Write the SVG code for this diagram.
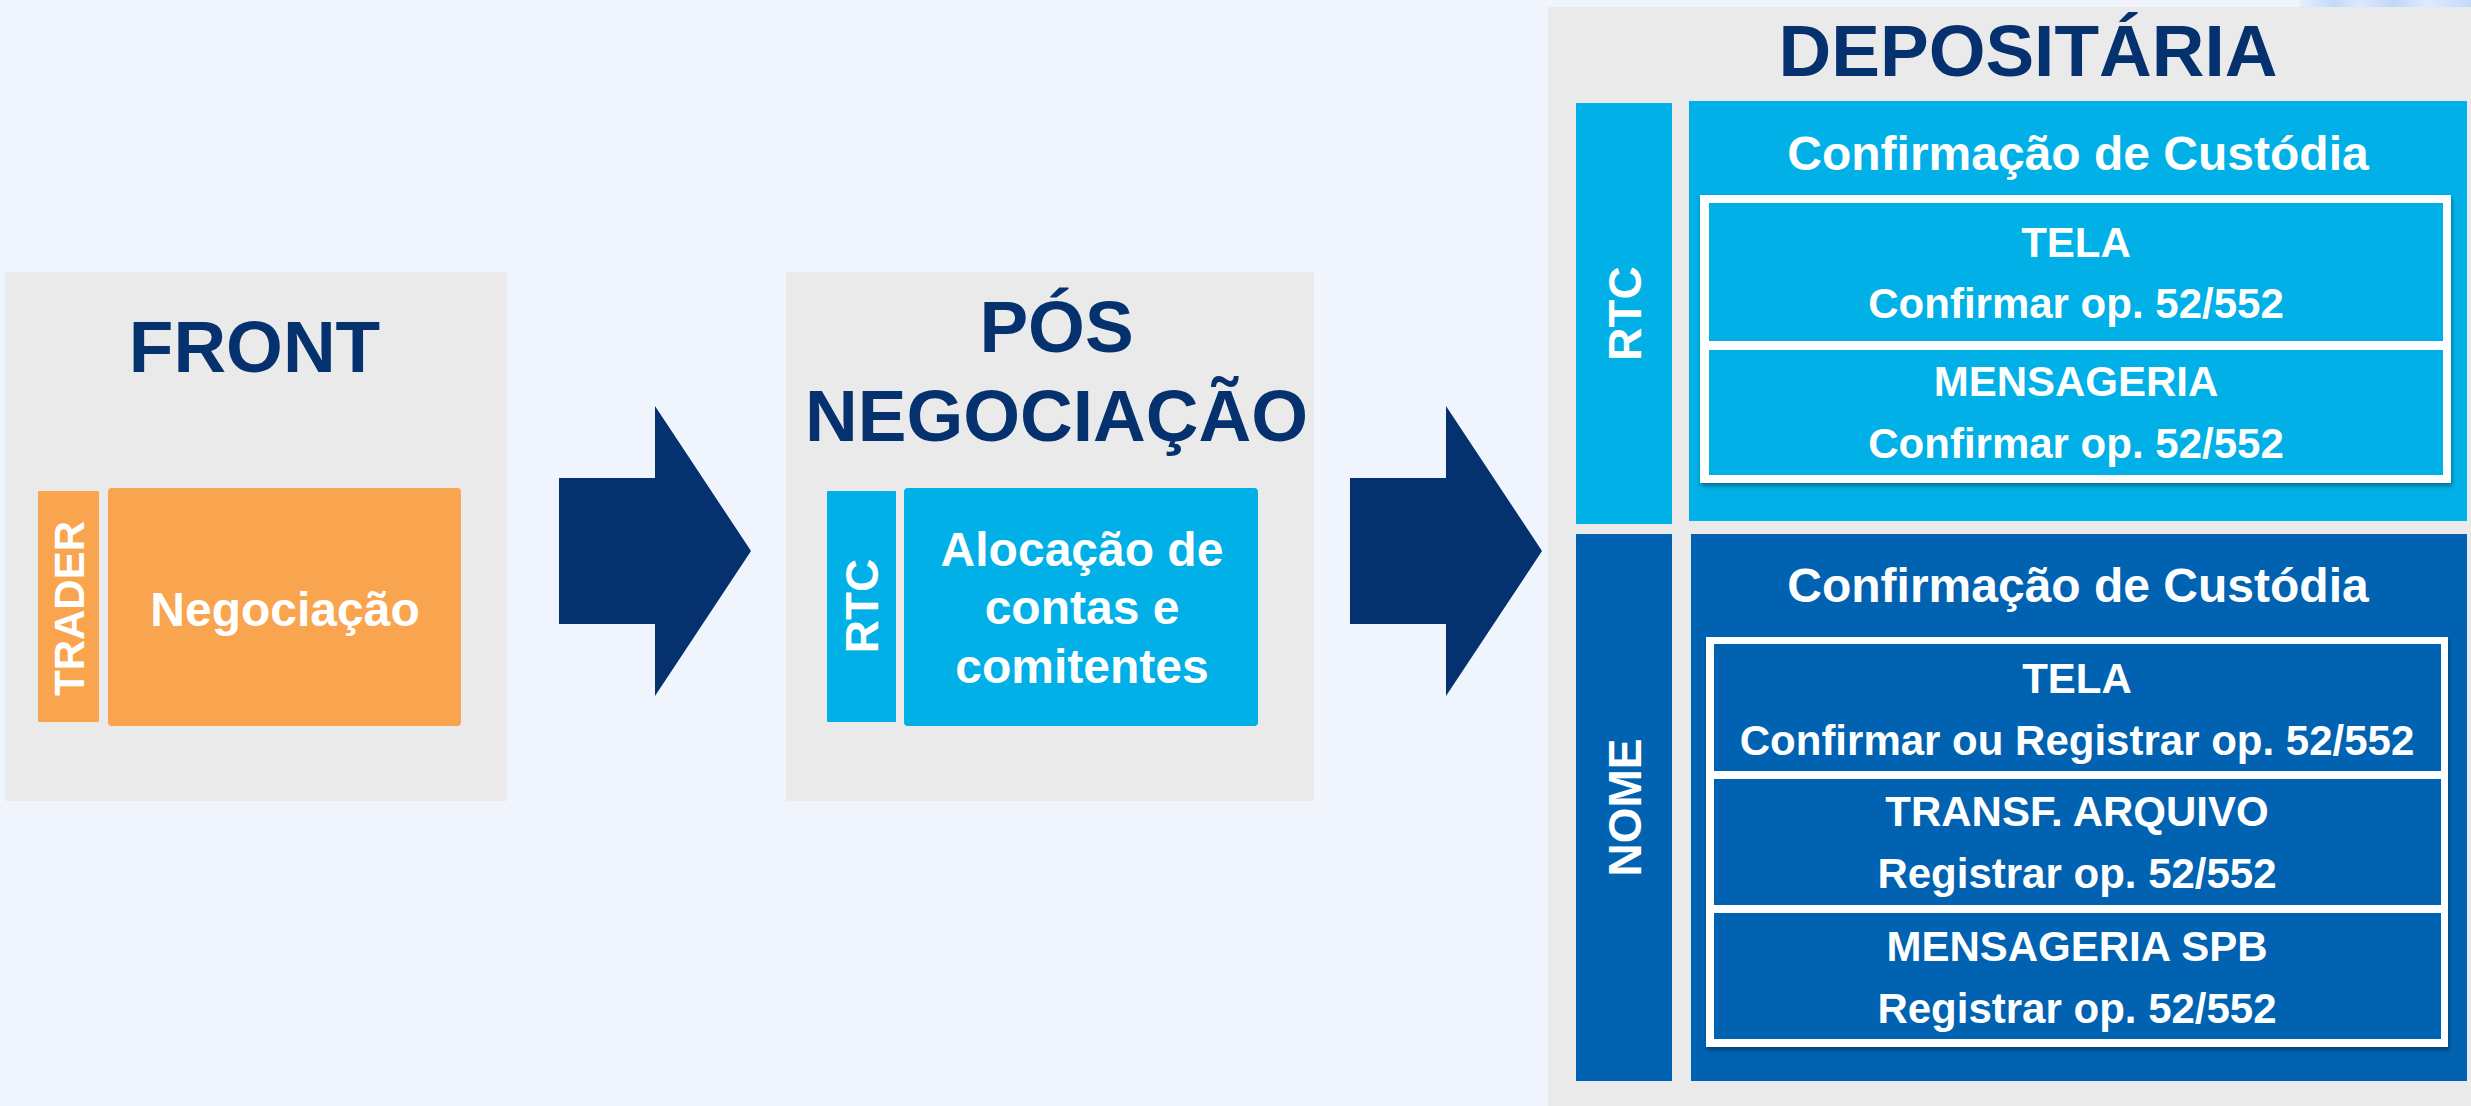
<svg xmlns="http://www.w3.org/2000/svg" width="2471" height="1106" viewBox="0 0 2471 1106">
<style>
text{font-family:"Liberation Sans",Arial,sans-serif;}
.title{font-size:73px;font-weight:bold;fill:#05316F;text-anchor:middle;}
.w48{font-size:48px;font-weight:bold;fill:#FFFFFF;text-anchor:middle;}
.w42{font-size:42px;font-weight:bold;fill:#FFFFFF;text-anchor:middle;}
.vert{font-size:46px;font-weight:bold;fill:#FFFFFF;text-anchor:middle;}
.panel{fill:#EAEAEA;}
.cyan{fill:#00B0E6;}
.dblue{fill:#0062B1;}
.orange{fill:#F9A54F;}
.arrow{fill:#05316F;}
</style>
<defs>
<linearGradient id="topband" x1="0" y1="0" x2="1" y2="0">
<stop offset="0" stop-color="#E6EEFC"/>
<stop offset="0.2" stop-color="#C2DAFB"/>
<stop offset="0.35" stop-color="#DDE9FC"/>
<stop offset="0.55" stop-color="#BFD8FB"/>
<stop offset="0.75" stop-color="#DFEAFC"/>
<stop offset="1" stop-color="#C3DAFB"/>
</linearGradient>
<filter id="sh" x="-5%" y="-5%" width="110%" height="115%">
<feDropShadow dx="1" dy="3" stdDeviation="2" flood-color="#000000" flood-opacity="0.35"/>
</filter>
</defs>
<rect x="0" y="0" width="2471" height="1106" fill="#F0F5FD"/>
<rect x="2300" y="0" width="171" height="8" fill="url(#topband)"/>

<g id="front">
<rect class="panel" x="5" y="272" width="502" height="529"/>
<text class="title" x="254.5" y="372">FRONT</text>
<rect id="trader" class="orange" x="38" y="491" width="61" height="231" rx="1"/>
<text x="0" y="0" transform="translate(84,608.5) rotate(-90)" style="font-size:42px;font-weight:bold;fill:#FFFFFF;text-anchor:middle;">TRADER</text>
<rect id="negociacao" class="orange" x="108" y="488" width="353" height="238" rx="4"/>
<text class="w48" x="285" y="626">Negociação</text>
</g>

<g id="pos">
<rect class="panel" x="786" y="272" width="528" height="529"/>
<text class="title" x="1056.5" y="352">PÓS</text>
<text class="title" x="1056.5" y="441">NEGOCIAÇÃO</text>
<rect id="pos-rtc" class="cyan" x="827" y="491" width="69" height="231" rx="1"/>
<text class="vert" x="0" y="0" transform="translate(878,606) rotate(-90)">RTC</text>
<rect id="alocacao" class="cyan" x="904" y="488" width="354" height="238" rx="4"/>
<text class="w48" x="1082" y="566">Alocação de</text>
<text class="w48" x="1082" y="624">contas e</text>
<text class="w48" x="1082" y="683">comitentes</text>
</g>

<g id="depositaria">
<rect class="panel" x="1548" y="7" width="923" height="1099"/>
<text class="title" x="2028" y="76">DEPOSITÁRIA</text>
</g>

<g id="dep-rtc">
<rect class="cyan" x="1576" y="103" width="96" height="421"/>
<text class="vert" x="0" y="0" transform="translate(1641,313.5) rotate(-90)">RTC</text>
<rect class="cyan" x="1689" y="101" width="778" height="420"/>
<text class="w48" x="2078" y="170">Confirmação de Custódia</text>
<rect x="1700" y="195" width="751" height="288" fill="#FFFFFF" filter="url(#sh)"/>
<rect class="cyan" x="1709" y="203" width="734" height="138"/>
<rect class="cyan" x="1709" y="350" width="734" height="125"/>
<text class="w42" x="2076" y="257">TELA</text>
<text class="w42" x="2076" y="318">Confirmar op. 52/552</text>
<text class="w42" x="2076" y="396">MENSAGERIA</text>
<text class="w42" x="2076" y="458">Confirmar op. 52/552</text>
</g>

<g id="dep-nome">
<rect class="dblue" x="1576" y="534" width="96" height="547"/>
<text class="vert" x="0" y="0" transform="translate(1641,807.5) rotate(-90)">NOME</text>
<rect class="dblue" x="1691" y="534" width="776" height="547"/>
<text class="w48" x="2078" y="602">Confirmação de Custódia</text>
<rect x="1706" y="637" width="742" height="410" fill="#FFFFFF" filter="url(#sh)"/>
<rect class="dblue" x="1714" y="644" width="727" height="127"/>
<rect class="dblue" x="1714" y="779" width="727" height="126"/>
<rect class="dblue" x="1714" y="913" width="727" height="126"/>
<text class="w42" x="2077" y="693">TELA</text>
<text class="w42" x="2077" y="755">Confirmar ou Registrar op. 52/552</text>
<text class="w42" x="2077" y="826">TRANSF. ARQUIVO</text>
<text class="w42" x="2077" y="888">Registrar op. 52/552</text>
<text class="w42" x="2077" y="961">MENSAGERIA SPB</text>
<text class="w42" x="2077" y="1023">Registrar op. 52/552</text>
</g>

<g id="connectors">
<polygon class="arrow" points="559,478 655,478 655,406 751,551 655,696 655,624 559,624"/>
<polygon class="arrow" points="1350,478 1446,478 1446,406 1542,551 1446,696 1446,624 1350,624"/>
</g>
</svg>
